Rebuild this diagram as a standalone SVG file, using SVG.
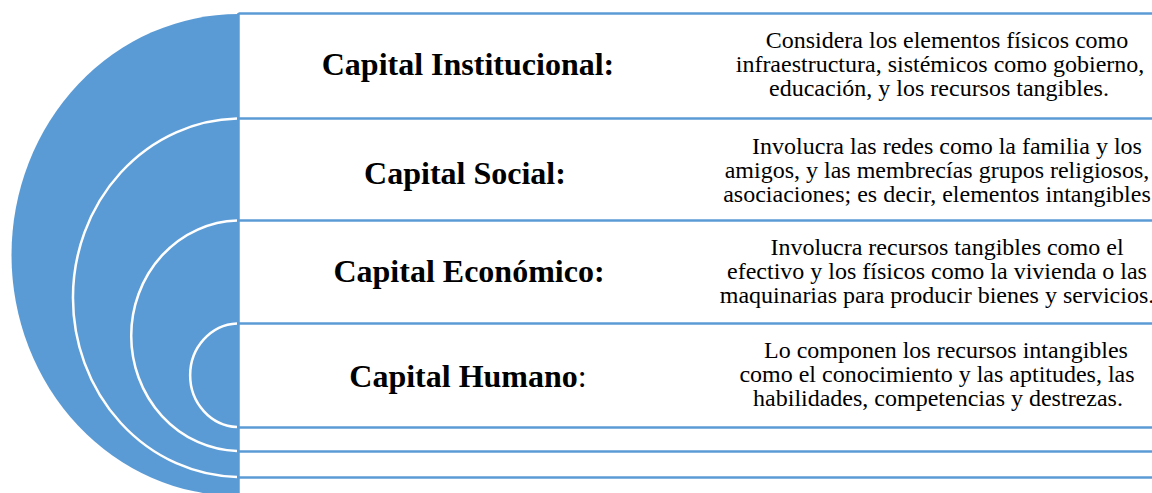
<svg xmlns="http://www.w3.org/2000/svg" width="1152" height="493" viewBox="0 0 1152 493">
<style>
.bg{fill:#ffffff}
.blue{fill:#5B9BD5}
.arc{fill:none;stroke:#ffffff;stroke-width:2.5}
.row{fill:none;stroke:#5B9BD5;stroke-width:2.5}
.title{font-family:"Liberation Serif","Times New Roman",serif;font-size:32px;font-weight:bold;fill:#000;text-anchor:middle}
.desc{font-family:"Liberation Serif","Times New Roman",serif;font-size:24px;fill:#000;text-anchor:middle}
.nb{font-weight:normal}
</style>
<rect class="bg" x="0" y="0" width="1152" height="493"/>
<g id="semicircles">
<path class="blue" d="M238.5,14 A227,241 0 0 0 238.5,496 Z"/>
<path class="arc" d="M237,118.5 A168,179.3 0 0 0 237,477"/>
<path class="arc" d="M237,220.5 A109,115.3 0 0 0 237,451"/>
<path class="arc" d="M237,323.5 A49,51.8 0 0 0 237,427"/>
</g>
<g id="connectors">
<line class="row" x1="238.5" y1="13" x2="238.5" y2="493"/>
</g>
<g id="row-institucional">
<line class="row" x1="238.5" y1="13.5" x2="1152" y2="13.5"/>
<text class="title" x="468" y="75">Capital Institucional:</text>
<text class="desc" x="947" y="48">Considera los elementos físicos como</text>
<text class="desc" x="940" y="72">infraestructura, sistémicos como gobierno,</text>
<text class="desc" x="939" y="96">educación, y los recursos tangibles.</text>
</g>
<g id="row-social">
<line class="row" x1="238.5" y1="118.5" x2="1152" y2="118.5"/>
<text class="title" x="465" y="184">Capital Social:</text>
<text class="desc" x="947" y="154">Involucra las redes como la familia y los</text>
<text class="desc" x="937" y="178">amigos, y las membrecías grupos religiosos,</text>
<text class="desc" x="937" y="202">asociaciones; es decir, elementos intangibles</text>
</g>
<g id="row-economico">
<line class="row" x1="238.5" y1="220.5" x2="1152" y2="220.5"/>
<text class="title" x="469" y="282">Capital Económico:</text>
<text class="desc" x="947" y="255">Involucra recursos tangibles como el</text>
<text class="desc" x="937" y="279">efectivo y los físicos como la vivienda o las</text>
<text class="desc" x="937" y="303">maquinarias para producir bienes y servicios.</text>
</g>
<g id="row-humano">
<line class="row" x1="238.5" y1="323.5" x2="1152" y2="323.5"/>
<text class="title" x="468" y="387">Capital Humano<tspan class="nb">:</tspan></text>
<text class="desc" x="946" y="358">Lo componen los recursos intangibles</text>
<text class="desc" x="937" y="382">como el conocimiento y las aptitudes, las</text>
<text class="desc" x="938" y="406">habilidades, competencias y destrezas.</text>
</g>
<g id="row-empty">
<line class="row" x1="238.5" y1="427.5" x2="1152" y2="427.5"/>
<line class="row" x1="238.5" y1="451.5" x2="1152" y2="451.5"/>
<line class="row" x1="238.5" y1="477.5" x2="1152" y2="477.5"/>
</g>
</svg>
